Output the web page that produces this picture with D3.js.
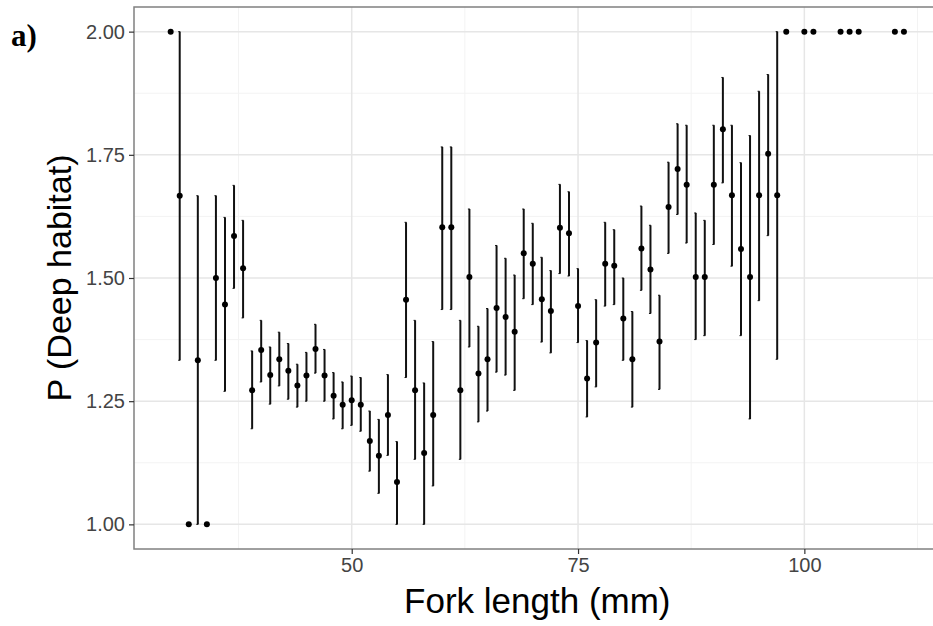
<!DOCTYPE html>
<html>
<head>
<meta charset="utf-8">
<script src="https://cdn.jsdelivr.net/npm/d3@7"></script>
<style>
  body { margin: 0; background: #fff; }
  text { font-family: "Liberation Sans", Arial, sans-serif; }
</style>
</head>
<body>
<svg id="chart"></svg>
<script>
    // fork length bins (mm)
    var forkLength = [30,31,32,33,34,35,36,37,38,39,40,41,42,43,44,45,46,47,48,49,50,51,52,53,54,55,56,57,58,59,
      60,61,62,63,64,65,66,67,68,69,70,71,72,73,74,75,76,77,78,79,80,81,82,83,84,85,86,87,88,89,
      90,91,92,93,94,95,96,97,98,100,101,104,105,106,110,111]

    // mean P (deep habitat) per bin
    var pDeep = [2.000,1.667,1.000,1.333,1.000,1.500,1.446,1.585,1.520,1.272,1.354,1.303,1.335,1.312,1.282,1.302,1.356,1.302,1.261,1.243,
      1.252,1.243,1.169,1.139,1.222,1.086,1.456,1.272,1.145,1.222,1.603,1.603,1.272,1.502,1.306,1.335,1.439,1.421,1.391,1.550,
      1.529,1.457,1.433,1.602,1.591,1.443,1.296,1.369,1.529,1.525,1.418,1.335,1.560,1.517,1.371,1.644,1.721,1.689,1.502,1.502,
      1.689,1.802,1.668,1.559,1.502,1.668,1.752,1.668,2.000,2.000,2.000,2.000,2.000,2.000,2.000,2.000]

    // lower / upper end of the error bars (null = single fish, no bar)
    var ciLow = [null,1.333,null,1.000,null,1.333,1.270,1.479,1.419,1.194,1.289,1.244,1.281,1.254,1.238,1.250,1.307,1.250,1.214,1.194,
      1.201,1.189,1.108,1.063,1.140,1.000,1.298,1.132,1.000,1.078,1.436,1.436,1.132,1.360,1.208,1.230,1.309,1.303,1.272,1.458,
      1.446,1.370,1.348,1.509,1.504,1.369,1.218,1.279,1.443,1.446,1.333,1.238,1.475,1.428,1.274,1.550,1.629,1.571,1.375,1.383,
      1.568,1.693,1.524,1.383,1.214,1.454,1.586,1.335,null,null,null,null,null,null,null,null]
    var ciHigh = [null,2.000,null,1.667,null,1.667,1.623,1.688,1.617,1.352,1.414,1.360,1.390,1.367,1.325,1.349,1.406,1.355,1.308,1.289,
      1.301,1.298,1.230,1.213,1.304,1.168,1.613,1.414,1.287,1.371,1.766,1.766,1.414,1.640,1.402,1.438,1.566,1.540,1.506,1.640,
      1.611,1.542,1.515,1.690,1.675,1.519,1.373,1.456,1.613,1.598,1.500,1.432,1.646,1.607,1.465,1.735,1.813,1.810,1.632,1.617,
      1.810,1.907,1.810,1.734,1.789,1.879,1.913,2.000,null,null,null,null,null,null,null,null]

    var xTicks = [50, 75, 100]
    var xMinor = [37.5, 62.5, 87.5, 112.5]
    var yTicks = [1.00, 1.25, 1.50, 1.75, 2.00]
    var yMinor = [1.125, 1.375, 1.625, 1.875]

    var width = 933;
    var height = 626;
    var panel = {left: 134, top: 7, right: 940.6, bottom: 549}

    var data = forkLength.map((d, i) => ({fl: d, p: pDeep[i], lo: ciLow[i], hi: ciHigh[i]}))

    var svg = d3.select("#chart").attr("width", width).attr("height", height)

    var xScale = d3.scaleLinear().domain([25.95, 115.05]).range([panel.left, panel.right])
    var yScale = d3.scaleLinear().domain([0.95, 2.05]).range([panel.bottom, panel.top])

    // grid (theme_bw look)
    var grid = svg.append("g")
    grid.selectAll(".xminor").data(xMinor).enter().append("line")
      .attr("x1", d => xScale(d)).attr("x2", d => xScale(d))
      .attr("y1", panel.top).attr("y2", panel.bottom)
      .attr("stroke", "#f3f3f3").attr("stroke-width", 1)
    grid.selectAll(".yminor").data(yMinor).enter().append("line")
      .attr("y1", d => yScale(d)).attr("y2", d => yScale(d))
      .attr("x1", panel.left).attr("x2", panel.right)
      .attr("stroke", "#f3f3f3").attr("stroke-width", 1)
    grid.selectAll(".xmajor").data(xTicks).enter().append("line")
      .attr("x1", d => xScale(d)).attr("x2", d => xScale(d))
      .attr("y1", panel.top).attr("y2", panel.bottom)
      .attr("stroke", "#e6e6e6").attr("stroke-width", 1.5)
    grid.selectAll(".ymajor").data(yTicks).enter().append("line")
      .attr("y1", d => yScale(d)).attr("y2", d => yScale(d))
      .attr("x1", panel.left).attr("x2", panel.right)
      .attr("stroke", "#e6e6e6").attr("stroke-width", 1.5)

    // error bars
    var bars = data.filter(d => d.lo !== null)
    svg.append("g").selectAll("line").data(bars).enter().append("line")
      .attr("x1", d => xScale(d.fl)).attr("x2", d => xScale(d.fl))
      .attr("y1", d => yScale(d.lo)).attr("y2", d => yScale(d.hi))
      .attr("stroke", "#111").attr("stroke-width", 2)
    // tiny caps
    svg.append("g").selectAll("path").data(bars).enter().append("path")
      .attr("d", d => `M${xScale(d.fl) - 1.5},${yScale(d.lo)}h2M${xScale(d.fl) - 1.5},${yScale(d.hi)}h2`)
      .attr("stroke", "#111").attr("stroke-width", 1)

    // points
    svg.append("g").selectAll("circle").data(data).enter().append("circle")
      .attr("cx", d => xScale(d.fl))
      .attr("cy", d => yScale(d.p))
      .attr("r", 3)
      .attr("fill", "#000")

    // panel border
    svg.append("rect")
      .attr("x", panel.left).attr("y", panel.top)
      .attr("width", panel.right - panel.left).attr("height", panel.bottom - panel.top)
      .attr("fill", "none").attr("stroke", "#808080").attr("stroke-width", 1.5)

    // axes
    var xAxis = d3.axisBottom(xScale).tickValues(xTicks).tickSize(5).tickPadding(4)
    var yAxis = d3.axisLeft(yScale).tickValues(yTicks).tickFormat(d3.format(".2f")).tickSize(5).tickPadding(4)

    var gx = svg.append("g").attr("transform", `translate(0,${panel.bottom})`).call(xAxis)
    var gy = svg.append("g").attr("transform", `translate(${panel.left},0)`).call(yAxis)
    ;[gx, gy].forEach(g => {
      g.select(".domain").remove()
      g.selectAll(".tick line").attr("stroke", "#333").attr("stroke-width", 1.2)
      g.selectAll(".tick text").attr("fill", "#444").style("font-size", "20px")
        .style("font-family", "'Liberation Sans', Arial, sans-serif")
    })

    // titles
    svg.append("text")
      .attr("x", (panel.left + panel.right) / 2)
      .attr("y", 613)
      .attr("text-anchor", "middle")
      .style("font-size", "35px")
      .attr("fill", "#000")
      .text("Fork length (mm)")

    svg.append("text")
      .attr("transform", `translate(71,${(panel.top + panel.bottom) / 2}) rotate(-90)`)
      .attr("text-anchor", "middle")
      .style("font-size", "34px")
      .attr("fill", "#000")
      .text("P (Deep habitat)")

    svg.append("text")
      .attr("x", 11).attr("y", 46)
      .style("font-family", "'Liberation Serif', 'Times New Roman', serif")
      .style("font-weight", "bold")
      .style("font-size", "31px")
      .attr("fill", "#000")
      .text("a)")
</script>
</body>
</html>
